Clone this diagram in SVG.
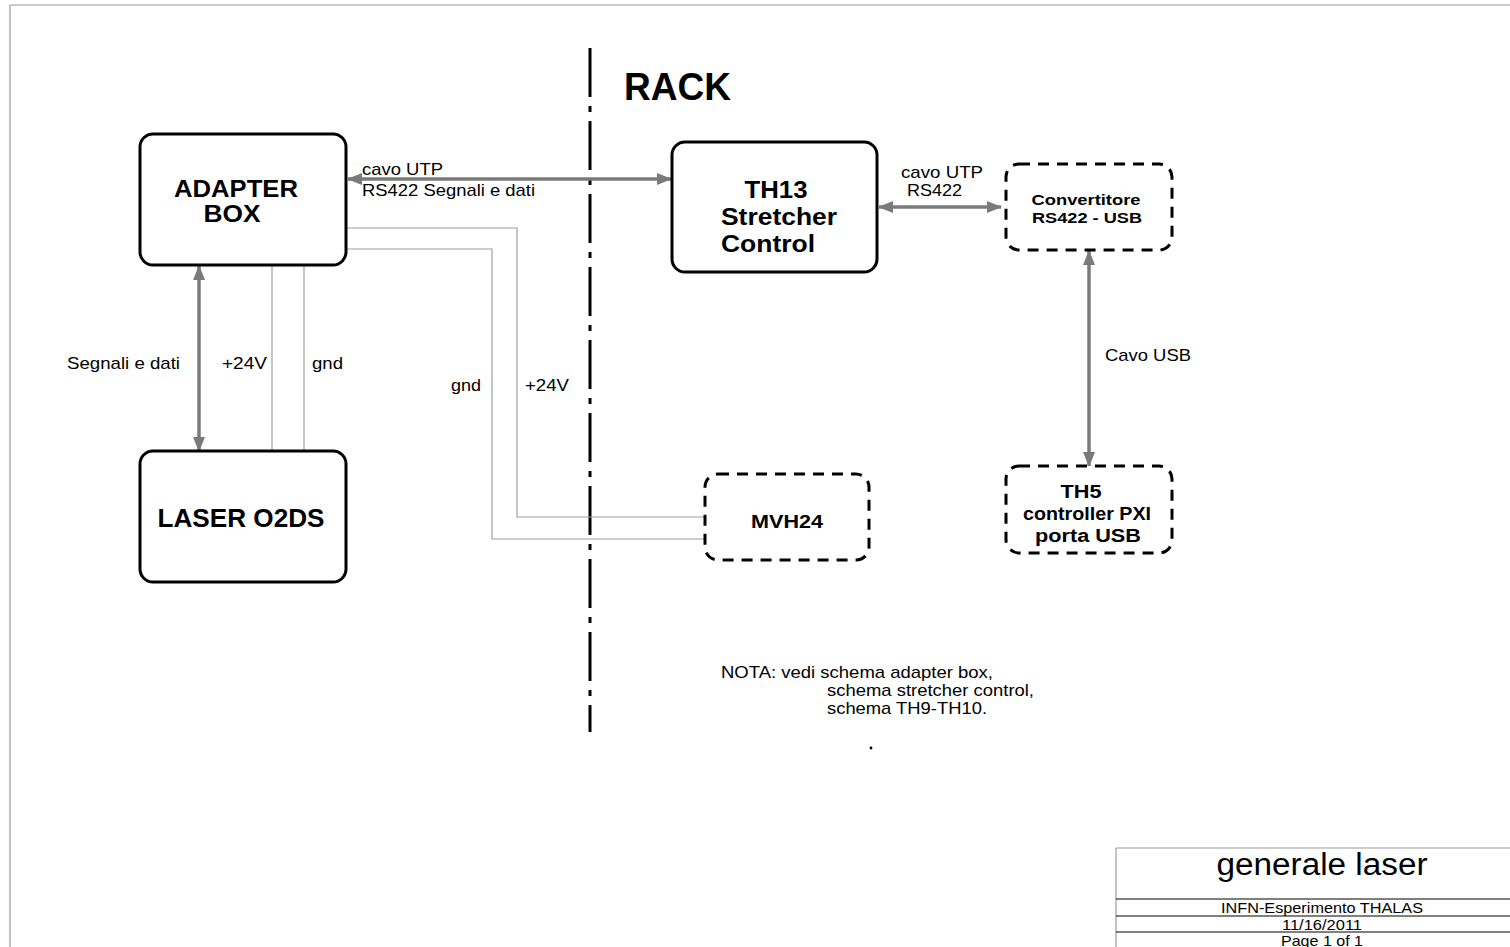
<svg xmlns="http://www.w3.org/2000/svg" width="1510" height="947" viewBox="0 0 1510 947">
  <style>
    .box { fill: #ffffff; stroke: #000000; stroke-width: 3; }
    .dbox { fill: #ffffff; stroke: #000000; stroke-width: 3; stroke-dasharray: 11 8; }
    .wire { fill: none; stroke: #a0a0a0; stroke-width: 1.2; }
    .link { fill: none; stroke: #7a7a7a; stroke-width: 3.5; }
    .title { font-family: "Liberation Sans", Arial, sans-serif; font-weight: bold; fill: #000; text-anchor: middle; }
    .lbl { font-family: "Liberation Sans", Arial, sans-serif; fill: #000; font-size: 17px; }
    .tb { font-family: "Liberation Sans", Arial, sans-serif; fill: #000; text-anchor: middle; }
  </style>
  <defs>
    <marker id="arr" viewBox="0 0 15 12" refX="14" refY="6" markerWidth="15" markerHeight="12" markerUnits="userSpaceOnUse" orient="auto-start-reverse">
      <path d="M0,0 L15,6 L0,12 Z" fill="#7a7a7a"/>
    </marker>
  </defs>

  <rect width="1510" height="947" fill="#ffffff"/>

  <!-- sheet frame -->
  <g id="frame" fill="none" stroke="#9a9a9a" stroke-width="1.2">
    <line x1="10" y1="5" x2="1510" y2="5"/>
    <line x1="10" y1="5" x2="10" y2="947"/>
  </g>

  <!-- rack boundary -->
  <line id="rack-boundary" x1="590" y1="48" x2="590" y2="732" stroke="#000" stroke-width="3" stroke-dasharray="49 9 6 9"/>
  <text id="rack-label" x="624" y="100" class="title" style="text-anchor:start" font-size="38" textLength="107" lengthAdjust="spacingAndGlyphs">RACK</text>

  <!-- connectors -->
  <g id="connectors">
    <line class="link" x1="348" y1="179" x2="671" y2="179" marker-start="url(#arr)" marker-end="url(#arr)"/>
    <line class="link" x1="879" y1="207" x2="1001" y2="207" marker-start="url(#arr)" marker-end="url(#arr)"/>
    <line class="link" x1="1089" y1="251" x2="1089" y2="466" marker-start="url(#arr)" marker-end="url(#arr)"/>
    <line class="link" x1="199" y1="266" x2="199" y2="451" marker-start="url(#arr)" marker-end="url(#arr)"/>
    <line class="wire" x1="272" y1="265" x2="272" y2="451"/>
    <line class="wire" x1="304" y1="265" x2="304" y2="451"/>
    <polyline class="wire" points="346,228 517,228 517,517 706,517"/>
    <polyline class="wire" points="346,249 492,249 492,539 706,539"/>
  </g>

  <!-- connector labels -->
  <g id="connector-labels" class="lbl">
    <text x="362" y="175" textLength="81" lengthAdjust="spacingAndGlyphs">cavo UTP</text>
    <text x="362" y="196" textLength="173" lengthAdjust="spacingAndGlyphs">RS422 Segnali e dati</text>
    <text x="901" y="178" textLength="82" lengthAdjust="spacingAndGlyphs">cavo UTP</text>
    <text x="907" y="196" textLength="55" lengthAdjust="spacingAndGlyphs">RS422</text>
    <text x="1105" y="361" textLength="86" lengthAdjust="spacingAndGlyphs">Cavo USB</text>
    <text x="67" y="369" textLength="113" lengthAdjust="spacingAndGlyphs">Segnali e dati</text>
    <text x="222" y="369" textLength="45" lengthAdjust="spacingAndGlyphs">+24V</text>
    <text x="312" y="369" textLength="31" lengthAdjust="spacingAndGlyphs">gnd</text>
    <text x="451" y="391" textLength="30" lengthAdjust="spacingAndGlyphs">gnd</text>
    <text x="525" y="391" textLength="44" lengthAdjust="spacingAndGlyphs">+24V</text>
  </g>

  <!-- nodes -->
  <g id="adapter-box">
    <rect class="box" x="140" y="134" width="206" height="131" rx="13"/>
    <text class="title" x="236" y="197" font-size="24" textLength="124" lengthAdjust="spacingAndGlyphs">ADAPTER</text>
    <text class="title" x="232" y="222" font-size="24" textLength="57" lengthAdjust="spacingAndGlyphs">BOX</text>
  </g>

  <g id="laser-o2ds">
    <rect class="box" x="140" y="451" width="206" height="131" rx="13"/>
    <text class="title" x="241" y="527" font-size="25" textLength="167" lengthAdjust="spacingAndGlyphs">LASER O2DS</text>
  </g>

  <g id="th13-stretcher-control">
    <rect class="box" x="672" y="142" width="205" height="130" rx="13"/>
    <text class="title" x="776" y="198" font-size="23" textLength="63" lengthAdjust="spacingAndGlyphs">TH13</text>
    <text class="title" x="779" y="225" font-size="23" textLength="116" lengthAdjust="spacingAndGlyphs">Stretcher</text>
    <text class="title" x="768" y="252" font-size="23" textLength="94" lengthAdjust="spacingAndGlyphs">Control</text>
  </g>

  <g id="convertitore">
    <rect class="dbox" x="1006" y="164" width="166" height="86" rx="13"/>
    <text class="title" x="1086" y="205" font-size="15" textLength="109" lengthAdjust="spacingAndGlyphs">Convertitore</text>
    <text class="title" x="1087" y="223" font-size="14" textLength="110" lengthAdjust="spacingAndGlyphs">RS422 - USB</text>
  </g>

  <g id="mvh24">
    <rect class="dbox" x="705" y="474" width="164" height="86" rx="13"/>
    <text class="title" x="787" y="528" font-size="18" textLength="72" lengthAdjust="spacingAndGlyphs">MVH24</text>
  </g>

  <g id="th5-controller">
    <rect class="dbox" x="1006" y="466" width="166" height="87" rx="13"/>
    <text class="title" x="1081" y="498" font-size="18" textLength="41" lengthAdjust="spacingAndGlyphs">TH5</text>
    <text class="title" x="1087" y="520" font-size="18" textLength="128" lengthAdjust="spacingAndGlyphs">controller PXI</text>
    <text class="title" x="1088" y="542" font-size="18" textLength="106" lengthAdjust="spacingAndGlyphs">porta USB</text>
  </g>

  <!-- note -->
  <g id="note" class="lbl" font-size="16">
    <text x="721" y="678" textLength="272" lengthAdjust="spacingAndGlyphs">NOTA: vedi schema adapter box,</text>
    <text x="827" y="696" textLength="207" lengthAdjust="spacingAndGlyphs">schema stretcher control,</text>
    <text x="827" y="714" textLength="160" lengthAdjust="spacingAndGlyphs">schema TH9-TH10.</text>
    <circle cx="871" cy="748" r="1.4" fill="#000"/>
  </g>

  <!-- title block -->
  <g id="title-block">
    <line x1="1116" y1="848" x2="1510" y2="848" stroke="#9a9a9a" stroke-width="1.2"/>
    <line x1="1116" y1="848" x2="1116" y2="947" stroke="#9a9a9a" stroke-width="1.2"/>
    <line x1="1116" y1="899" x2="1510" y2="899" stroke="#000" stroke-width="1"/>
    <line x1="1116" y1="916" x2="1510" y2="916" stroke="#000" stroke-width="1"/>
    <line x1="1116" y1="932" x2="1510" y2="932" stroke="#000" stroke-width="1"/>
    <text class="tb" x="1322" y="875" font-size="31" textLength="211" lengthAdjust="spacingAndGlyphs">generale laser</text>
    <text class="tb" x="1322" y="913" font-size="15" textLength="202" lengthAdjust="spacingAndGlyphs">INFN-Esperimento THALAS</text>
    <text class="tb" x="1322" y="930" font-size="15" textLength="80" lengthAdjust="spacingAndGlyphs">11/16/2011</text>
    <text class="tb" x="1322" y="946" font-size="15" textLength="82" lengthAdjust="spacingAndGlyphs">Page 1 of 1</text>
  </g>
</svg>
